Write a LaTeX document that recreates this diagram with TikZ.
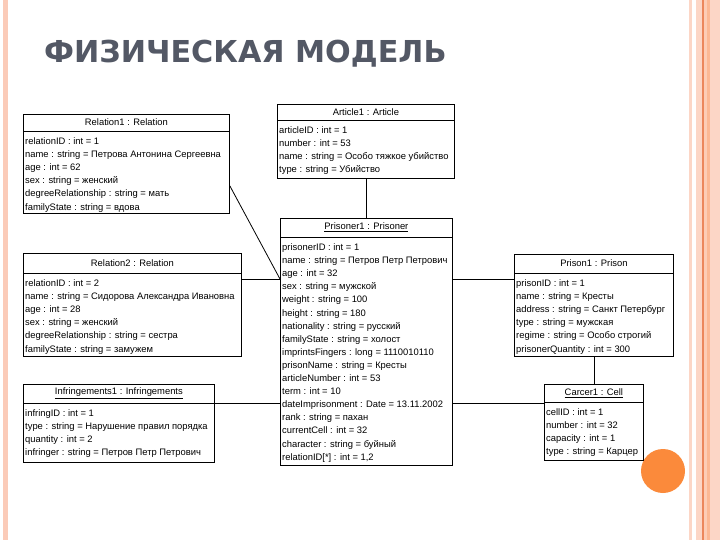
\documentclass[tikz,border=0pt]{standalone}
\usepackage{fontspec}
\setmainfont{Liberation Sans}
\newfontfamily\titlefont{DejaVu Sans}
\usepackage{xcolor}
\usetikzlibrary{positioning,calc}
\definecolor{titleink}{HTML}{535865}
\definecolor{stripepink}{HTML}{FBCBB8}
\definecolor{stripelight}{HTML}{FCD6C6}
\definecolor{stripedark}{HTML}{EC875C}
\definecolor{stripepeach}{HTML}{FDCDB6}
\definecolor{stripesalmon}{HTML}{FCB894}
\definecolor{dotorange}{HTML}{FB8A3B}

\begin{document}
\begin{tikzpicture}[x=1pt,y=-1pt,
  objframe/.style={draw,line width=0.8pt,anchor=north west,inner sep=0pt},
  objhead/.style={font=\fontsize{9.4}{11}\selectfont,inner sep=0pt},
  objattrs/.style={font=\fontsize{9.4}{13.1}\selectfont,align=left,
    anchor=north west,inner xsep=2pt,inner ysep=6.5pt},
  link/.style={line width=0.8pt}]
  \useasboundingbox (0,0) rectangle (720,540);
  \fill[white] (0,0) rectangle (720,540);
  % slide border stripes
  \fill[stripepink] (3,0) rectangle (8,540);
  \fill[stripelight] (689,0) rectangle (692,540);
  \fill[stripelight] (696,0) rectangle (702,540);
  \fill[stripedark] (702,0) rectangle (703.5,540);
  \fill[stripepeach] (703.5,0) rectangle (707,540);
  \fill[stripesalmon] (707,0) rectangle (710,540);
  \fill[stripelight] (710,0) rectangle (720,540);
  \fill[dotorange] (663,471) circle (22pt);

  \node[font=\titlefont\bfseries\fontsize{30.2}{36}\selectfont,text=titleink,
    anchor=base west,inner sep=0pt] (title) at (44,63) {ФИЗИЧЕСКАЯ МОДЕЛЬ};

  % Relation1
  \node[objframe,minimum width=206,minimum height=99] (rel1) at (23,114) {};
  \node[objhead] (rel1h) at ($(rel1.north)+(0,8.5)$) {Relation1 : Relation};
  \draw[link] ($(rel1.north west)+(0,17)$) -- ($(rel1.north east)+(0,17)$);
  \node[objattrs] (rel1a) at ($(rel1.north west)+(0,17)$)
    {relationID : int = 1\\name : string = Петрова Антонина Сергеевна\\
     age : int = 62\\sex : string = женский\\
     degreeRelationship : string = мать\\familyState : string = вдова};

  % Article1
  \node[objframe,minimum width=177,minimum height=74] (art1) at (277,104) {};
  \node[objhead] (art1h) at ($(art1.north)+(0,8)$) {Article1 : Article};
  \draw[link] ($(art1.north west)+(0,16)$) -- ($(art1.north east)+(0,16)$);
  \node[objattrs] (art1a) at ($(art1.north west)+(0,16)$)
    {articleID : int = 1\\number : int = 53\\
     name : string = Особо тяжкое убийство\\type : string = Убийство};

  % Prisoner1
  \node[objframe,minimum width=172,minimum height=247] (pris1) at (280,218) {};
  \node[objhead] (pris1h) at ($(pris1.north)+(0,9.5)$)
    {\underline{Prisoner1 : Prisoner}};
  \draw[link] ($(pris1.north west)+(0,19)$) -- ($(pris1.north east)+(0,19)$);
  \node[objattrs] (pris1a) at ($(pris1.north west)+(0,19)$)
    {prisonerID : int = 1\\name : string = Петров Петр Петрович\\
     age : int = 32\\sex : string = мужской\\weight : string = 100\\
     height : string = 180\\nationality : string = русский\\
     familyState : string = холост\\imprintsFingers : long = 1110010110\\
     prisonName : string = Кресты\\articleNumber : int = 53\\
     term : int = 10\\dateImprisonment : Date = 13.11.2002\\
     rank : string = пахан\\currentCell : int = 32\\
     character : string = буйный\\relationID[*] : int = 1,2};

  % Relation2
  \node[objframe,minimum width=218,minimum height=103] (rel2) at (23,253) {};
  \node[objhead] (rel2h) at ($(rel2.north)+(0,10)$) {Relation2 : Relation};
  \draw[link] ($(rel2.north west)+(0,20)$) -- ($(rel2.north east)+(0,20)$);
  \node[objattrs] (rel2a) at ($(rel2.north west)+(0,20)$)
    {relationID : int = 2\\name : string = Сидорова Александра Ивановна\\
     age : int = 28\\sex : string = женский\\
     degreeRelationship : string = сестра\\familyState : string = замужем};

  % Prison1
  \node[objframe,minimum width=159,minimum height=102] (prison1) at (514,254) {};
  \node[objhead] (prison1h) at ($(prison1.north)+(0,9.5)$) {Prison1 : Prison};
  \draw[link] ($(prison1.north west)+(0,19)$) -- ($(prison1.north east)+(0,19)$);
  \node[objattrs] (prison1a) at ($(prison1.north west)+(0,19)$)
    {prisonID : int = 1\\name : string = Кресты\\
     address : string = Санкт Петербург\\type : string = мужская\\
     regime : string = Особо строгий\\prisonerQuantity : int = 300};

  % Infringements1
  \node[objframe,minimum width=191,minimum height=78] (inf1) at (23,384) {};
  \node[objhead] (inf1h) at ($(inf1.north)+(0,9.5)$)
    {\underline{Infringements1 : Infringements}};
  \draw[link] ($(inf1.north west)+(0,19)$) -- ($(inf1.north east)+(0,19)$);
  \node[objattrs] (inf1a) at ($(inf1.north west)+(0,19)$)
    {infringID : int = 1\\type : string = Нарушение правил порядка\\
     quantity : int = 2\\infringer : string = Петров Петр Петрович};

  % Carcer1
  \node[objframe,minimum width=99,minimum height=76] (carc1) at (544,384) {};
  \node[objhead] (carc1h) at ($(carc1.north)+(0,9)$)
    {\underline{Carcer1 : Cell}};
  \draw[link] ($(carc1.north west)+(0,18)$) -- ($(carc1.north east)+(0,18)$);
  \node[objattrs] (carc1a) at ($(carc1.north west)+(0,18)$)
    {cellID : int = 1\\number : int = 32\\capacity : int = 1\\
     type : string = Карцер};

  % links
  \coordinate (pw1) at ($(pris1.north west)+(0,61)$);
  \coordinate (pe1) at ($(pris1.north east)+(0,61)$);
  \coordinate (pw2) at ($(pris1.north west)+(0,185)$);
  \coordinate (pe2) at ($(pris1.north east)+(0,185)$);
  \coordinate (rel1out) at ($(rel1.south east)+(0,-28)$);
  \draw[link] (art1.south) -- (art1.south |- pris1.north);
  \draw[link] (rel1out) -- (pw1);
  \draw[link] (rel2.east |- pw1) -- (pw1);
  \draw[link] (prison1.west |- pe1) -- (pe1);
  \draw[link] (inf1.east |- pw2) -- (pw2);
  \draw[link] (carc1.west |- pe2) -- (pe2);
  \draw[link] (prison1.south) -- (carc1.north);
\end{tikzpicture}
\end{document}
